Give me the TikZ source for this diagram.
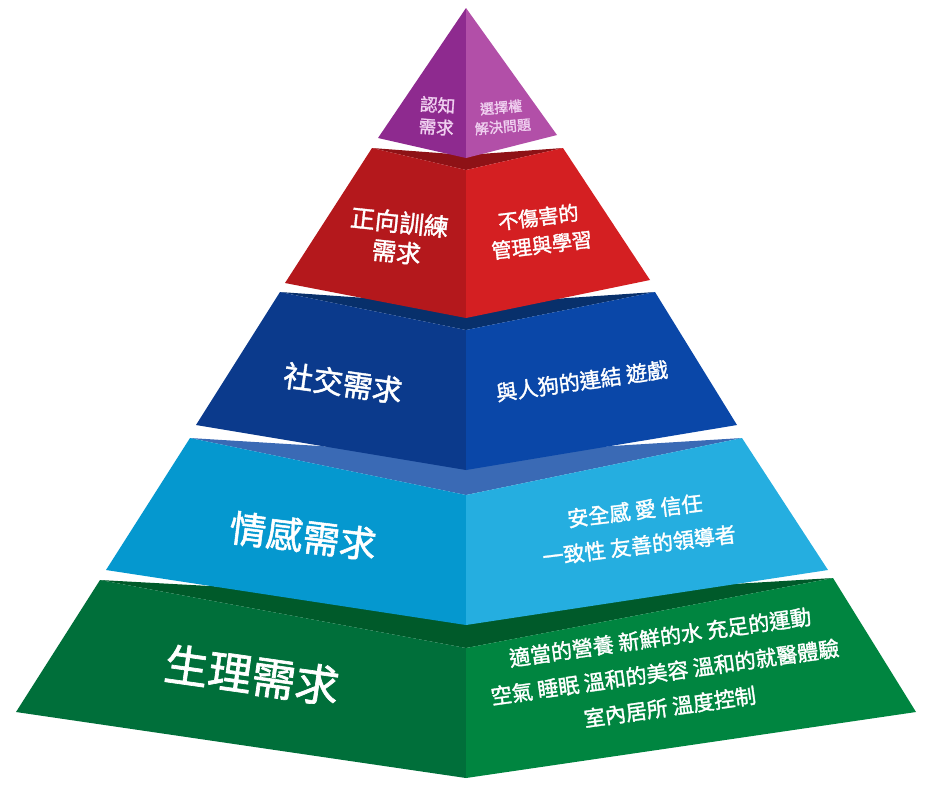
\documentclass[tikz,border=0pt]{standalone}
\usepackage{fontspec}
\newfontfamily\cjk[AutoFakeBold=1.5]{Noto Sans CJK TC}
\definecolor{grL}{HTML}{006F3A}\definecolor{grR}{HTML}{008540}\definecolor{grT}{HTML}{005A2A}
\definecolor{lbL}{HTML}{0598CF}\definecolor{lbR}{HTML}{25AEE0}\definecolor{lbT}{HTML}{3A6AB5}
\definecolor{dbL}{HTML}{0B3A8C}\definecolor{dbR}{HTML}{0A47A8}\definecolor{dbT}{HTML}{08306B}
\definecolor{rdL}{HTML}{B4181C}\definecolor{rdR}{HTML}{D41F22}\definecolor{rdT}{HTML}{8E1216}
\definecolor{puL}{HTML}{8E2A8F}\definecolor{puR}{HTML}{B24FA8}\definecolor{puText}{HTML}{F0D0F0}
% one tier: colour prefix, TL, TC, TR, BL, BC, BR, back centre y
\newcommand{\tier}[8]{%
  \fill[#1T] (#2) -- (466,#8) -- (#4) -- (#3) -- cycle;
  \fill[#1L] (#2) -- (#3) -- (#6) -- (#5) -- cycle;
  \fill[#1R] (#3) -- (#4) -- (#7) -- (#6) -- cycle;
}
\begin{document}
\begin{tikzpicture}[x=0.02cm,y=-0.02cm,
    lab/.style={text=white,font=\cjk\bfseries,align=center,inner sep=0pt}]
  \useasboundingbox (0,0) rectangle (932,789);

  \tier{gr}{100,580}{466,648}{833,578}{16,712}{466,778}{916,712}{600}
  \tier{lb}{190,438}{466,495}{742,438}{106,570}{466,625}{828,570}{455}
  \tier{db}{280,292}{466,330}{655,292}{196,425}{466,470}{737,425}{305}
  \tier{rd}{372,148}{466,170}{563,148}{285,283}{466,318}{650,280}{155}
  \fill[puL] (466,8) -- (466,158) -- (378,138) -- cycle;
  \fill[puR] (466,8) -- (557,135) -- (466,158) -- cycle;

  \node[lab,font=\cjk\bfseries\fontsize{25}{28}\selectfont,rotate=-8] (phys) at (252,675) {生理需求};
  \node[lab,font=\cjk\bfseries\fontsize{12}{20}\selectfont,rotate=8] (physR) at (665,672)
    {適當的營養 新鮮的水 充足的運動\\空氣 睡眠 溫和的美容 溫和的就醫體驗\\室內居所 溫度控制};
  \node[lab,font=\cjk\bfseries\fontsize{21}{24}\selectfont,rotate=-7] (emo) at (303,536) {情感需求};
  \node[lab,font=\cjk\bfseries\fontsize{12}{20}\selectfont,rotate=7] (emoR) at (637,528)
    {安全感 愛 信任\\一致性 友善的領導者};
  \node[lab,font=\cjk\bfseries\fontsize{17}{20}\selectfont,rotate=-8] (soc) at (343,383) {社交需求};
  \node[lab,font=\cjk\bfseries\fontsize{12}{14}\selectfont,rotate=8] (socR) at (582,381) {與人狗的連結 遊戲};
  \node[lab,font=\cjk\bfseries\fontsize{14}{17}\selectfont,rotate=-6] (train) at (398,237) {正向訓練\\需求};
  \node[lab,font=\cjk\bfseries\fontsize{11.5}{16}\selectfont,rotate=7] (trainR) at (540,231) {不傷害的\\管理與學習};
  \node[lab,text=puText,font=\cjk\bfseries\fontsize{10}{12.5}\selectfont,rotate=-4] (cog) at (437,116) {認知\\需求};
  \node[lab,text=puText,font=\cjk\bfseries\fontsize{8}{11}\selectfont,rotate=5] (cogR) at (502,117) {選擇權\\解決問題};
\end{tikzpicture}
\end{document}
